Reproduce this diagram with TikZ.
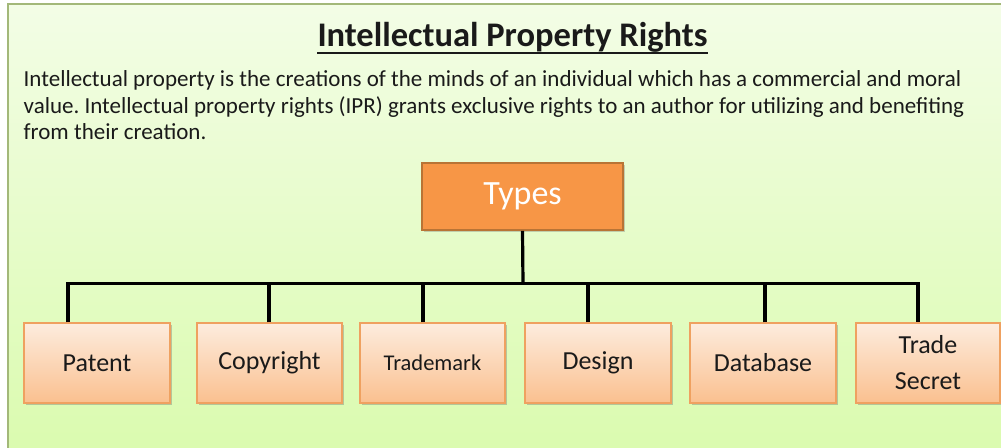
\documentclass[tikz,border=0pt]{standalone}
\usepackage{fontspec}
\setmainfont{Carlito}
\frenchspacing
\usetikzlibrary{shadows,calc}
\definecolor{bgtop}{HTML}{F3FDE6}
\definecolor{bgbot}{HTML}{DAFBAE}
\definecolor{frame}{HTML}{A3B879}
\definecolor{peachtop}{HTML}{FDECDE}
\definecolor{peachbot}{HTML}{FAC08F}
\definecolor{peachline}{HTML}{EFA160}
\definecolor{typesfill}{HTML}{F79646}
\definecolor{typesline}{HTML}{B97435}
\definecolor{ink}{HTML}{1A1A1A}
\tikzset{
  childbox/.style={draw=peachline, line width=1.2pt, top color=peachtop, bottom color=peachbot,
    minimum height=80pt, inner sep=0pt, align=center, text=ink,
    font=\fontsize{26}{36}\selectfont,
    drop shadow={shadow xshift=1.5pt, shadow yshift=-2pt, opacity=0.35, fill=black!60}},
  typesbox/.style={draw=typesline, line width=1.6pt, fill=typesfill, minimum width=201pt,
    minimum height=67pt, inner sep=0pt, text=white, font=\fontsize{34}{40}\selectfont,
    drop shadow={shadow xshift=1.5pt, shadow yshift=-2pt, opacity=0.3, fill=black!60}},
  conn/.style={line width=3.2pt, black},
  bodyline/.style={anchor=base west, inner sep=0pt, text=ink, font=\fontsize{23}{26}\selectfont},
}
\begin{document}
\begin{tikzpicture}[x=1pt, y=-1pt]
\useasboundingbox (0,0) rectangle (1001,447);
\fill[white] (0,0) rectangle (1001,447);
\shade[top color=bgtop, bottom color=bgbot] (8,4) rectangle (1012,460);
\draw[frame, line width=1.8pt] (8,460) -- (8,4) -- (1012,4);

\node[inner sep=0pt, anchor=base, font=\bfseries\fontsize{34.5}{40}\selectfont, text=ink] (title) at (512.5,46) {Intellectual Property Rights};
\draw[ink, line width=2.5pt] ([yshift=-7pt]title.base west) -- ([yshift=-7pt]title.base east);

\node[bodyline] (l1) at (23.5,86.5) {Intellectual property is the creations of the minds of an individual which has a commercial and moral};
\node[bodyline] (l2) at (23.5,113) {value. Intellectual property rights (IPR) grants exclusive rights to an author for utilizing and benefiting};
\node[bodyline] (l3) at (23.5,139.5) {from their creation.};

\node[typesbox] (types) at (522.5,196.5) {Types};

\node[childbox, minimum width=146pt] (patent) at (97,363) {Patent};
\node[childbox, minimum width=145pt] (copyright) at (269.5,363) {Copyright};
\node[childbox, minimum width=145pt, font=\fontsize{22.5}{30}\selectfont] (trademark) at (432.5,363) {Trademark};
\node[childbox, minimum width=146pt] (design) at (598,363) {Design};
\node[childbox, minimum width=146pt] (database) at (763,363) {Database};
\node[childbox, minimum width=144pt] (trade) at (928,363) {Trade\\Secret};

\coordinate (hub) at (523,283.5);
\draw[conn] (types.south) -- (hub);
\draw[conn] ([xshift=-29pt]patent.north) |- (hub) -| ([xshift=-10pt]trade.north);
\draw[conn] ([xshift=-0.5pt]copyright.north) -- ([xshift=-0.5pt]copyright.north |- hub);
\draw[conn] ([xshift=-9.5pt]trademark.north) -- ([xshift=-9.5pt]trademark.north |- hub);
\draw[conn] ([xshift=-10pt]design.north) -- ([xshift=-10pt]design.north |- hub);
\draw[conn] ([xshift=2pt]database.north) -- ([xshift=2pt]database.north |- hub);
\end{tikzpicture}
\end{document}
